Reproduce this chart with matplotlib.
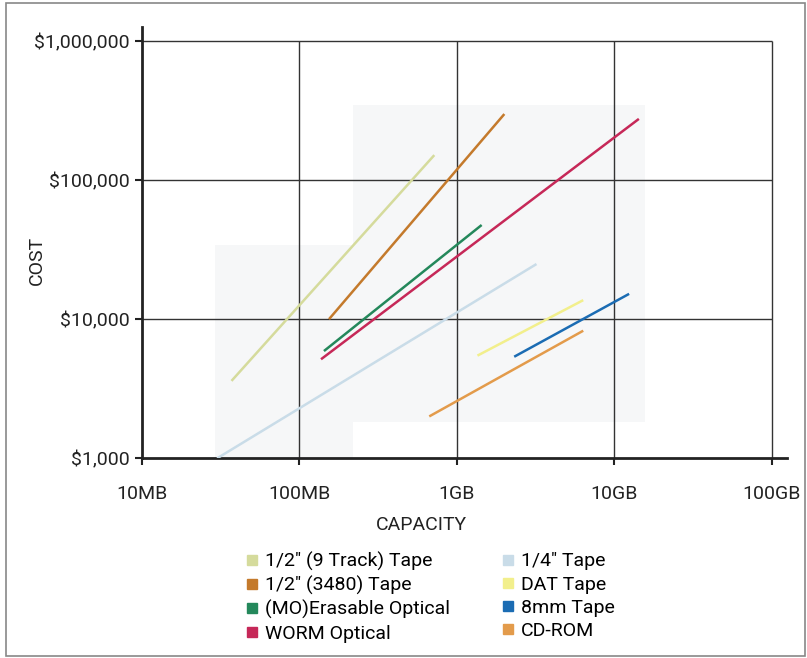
import matplotlib
matplotlib.use("Agg")
import matplotlib.pyplot as plt
from matplotlib.lines import Line2D
from matplotlib.patches import Rectangle

plt.rcParams["font.family"] = ["Roboto", "DejaVu Sans"]

# capacity in MB, cost in dollars (start, end of each line)
series = [
    '1/2" (9 Track) Tape',
    '1/2" (3480) Tape',
    "(MO)Erasable Optical",
    "WORM Optical",
    '1/4" Tape',
    "DAT Tape",
    "8mm Tape",
    "CD-ROM",
]
cap_start = [37, 154, 143, 137, 30, 1350, 2310, 667]
cap_end = [718, 2000, 1435, 14300, 3200, 6340, 12400, 6340]
cost_start = [3600, 10000, 5900, 5150, 1000, 5470, 5370, 2000]
cost_end = [151000, 298000, 47500, 275000, 24900, 13700, 15200, 8260]
colors = ["#d5db9c", "#c47a2c", "#24885b", "#c62858",
          "#c9dce8", "#f2ef8c", "#1b6cb3", "#e39b4b"]

x_ticks = [10, 100, 1000, 10000, 100000]
x_labels = ["10MB", "100MB", "1GB", "10GB", "100GB"]
y_ticks = [1000, 10000, 100000, 1000000]
y_labels = ["$1,000", "$10,000", "$100,000", "$1,000,000"]

# faint halftone patches behind the lines (x0, x1, y0, y1)
shade = [(29, 219, 1000, 34100), (219, 15600, 1820, 347000)]

W, H = 807, 658
fig = plt.figure(figsize=(W / 100, H / 100), dpi=100)
ax = fig.add_axes([0.176, 0.3035, 0.799, 0.6555])
ax.set_xscale("log")
ax.set_yscale("log")
ax.set_xlim(10, 10 ** 5.095)
ax.set_ylim(1000, 10 ** 6.1)

for x0, x1, y0, y1 in shade:
    ax.add_patch(Rectangle((x0, y0), x1 - x0, y1 - y0, color="#f6f7f8", zorder=0, lw=0))

ax.vlines(x_ticks[1:], 1000, 1e6, color="#333333", lw=1.0, zorder=1)
ax.hlines(y_ticks[1:], 10, 1e5, color="#333333", lw=1.0, zorder=1)

for i, name in enumerate(series):
    ax.plot([cap_start[i], cap_end[i]], [cost_start[i], cost_end[i]],
            color=colors[i], lw=1.8, solid_capstyle="butt", zorder=3)

for s in ["top", "right"]:
    ax.spines[s].set_visible(False)
ax.spines["left"].set_linewidth(2)
ax.spines["bottom"].set_linewidth(2)
ax.spines["left"].set_color("#222222")
ax.spines["bottom"].set_color("#222222")

ax.set_xticks(x_ticks)
ax.set_xticklabels(x_labels)
ax.set_yticks(y_ticks)
ax.set_yticklabels(y_labels)
ax.minorticks_off()
ax.tick_params(axis="both", length=5, width=1.5, labelsize=14, colors="#222222")
ax.tick_params(axis="x", pad=14)
ax.tick_params(axis="y", pad=4)

fig.text(421 / W, 1 - 525 / H, "CAPACITY", fontsize=14, color="#222222",
         ha="center", va="center")
fig.text(37 / W, 1 - 260 / H, "COST", fontsize=14, color="#222222",
         ha="center", va="center", rotation=90)

handles = [Line2D([], [], ls="none", marker="s", markersize=6.5,
                  markerfacecolor=c, markeredgecolor=c) for c in colors]
fig.legend(handles, series, loc="upper left", bbox_to_anchor=(0.305, 0.162),
           ncol=2, frameon=False, fontsize=14, handlelength=0.6,
           handletextpad=0.35, labelspacing=0.27, columnspacing=2.7,
           borderpad=0, borderaxespad=0)

fig.patches.append(Rectangle((0.007, 0.003), 0.99, 0.992, transform=fig.transFigure,
                             fill=False, ec="#888888", lw=1.2))

fig.savefig("out.png", dpi=100)
